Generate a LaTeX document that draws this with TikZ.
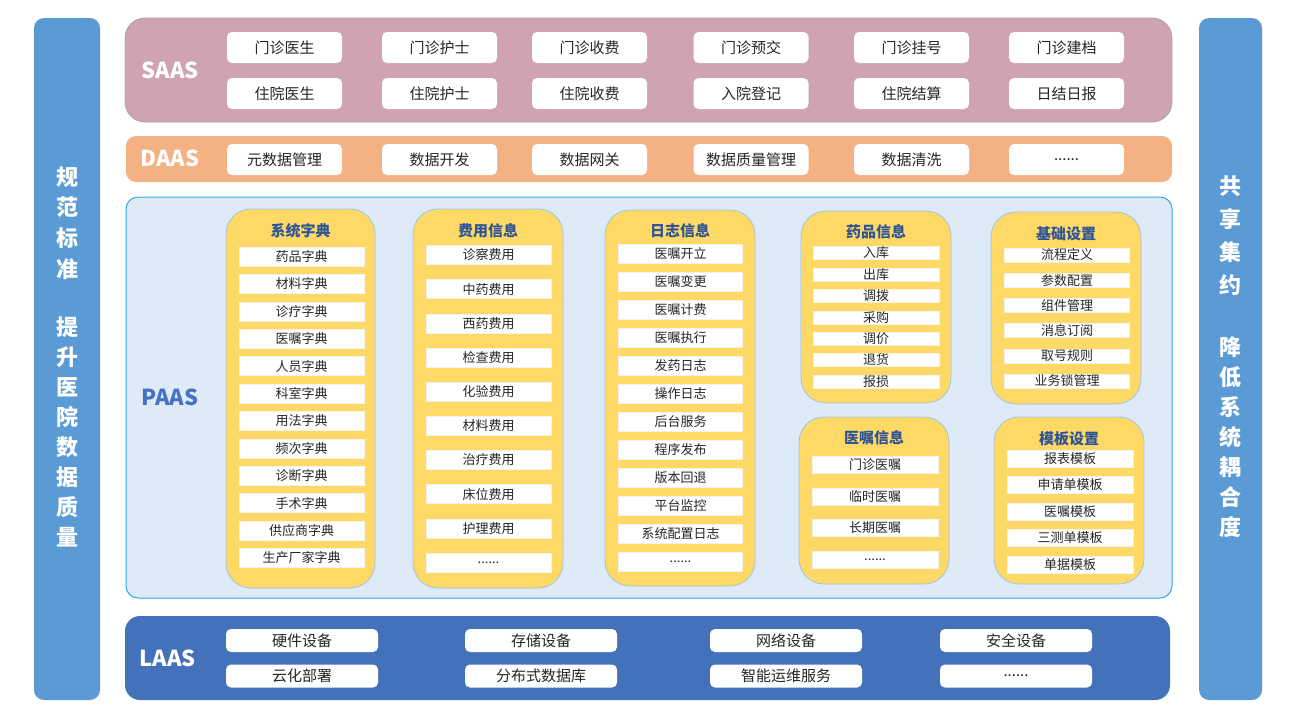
\documentclass[tikz,border=0pt]{standalone}
\usepackage{fontspec}
\setmainfont{Noto Sans CJK SC}
\usetikzlibrary{positioning}

\definecolor{sidebar}{HTML}{5B9BD5}
\definecolor{saasbg}{HTML}{D0A3B0}
\definecolor{daasbg}{HTML}{F4B183}
\definecolor{paasbg}{HTML}{DEEBF7}
\definecolor{paasln}{HTML}{2EA9E1}
\definecolor{laasbg}{HTML}{4472BA}
\definecolor{colbg}{HTML}{FFD966}
\definecolor{colln}{HTML}{9DC3E6}
\definecolor{titleblue}{HTML}{2F5597}
\definecolor{paastext}{HTML}{4472C4}
\definecolor{itemtext}{HTML}{262626}
\newcommand\etcdots{......}

\begin{document}
\begin{tikzpicture}[x=1pt, y=-1pt, every node/.style={text=itemtext},
	layername/.style={font=\fontsize{22}{22}\selectfont\bfseries, text=white},
	sidetext/.style={font=\fontsize{22}{30}\selectfont\bfseries, text=white, align=center},
	card/.style={fill=white, rounded corners=5pt, minimum width=115pt, minimum height=31pt, inner sep=0pt, font=\fontsize{15}{15}\selectfont},
	lcard/.style={card, minimum width=152pt, minimum height=23pt},
	col/.style={fill=colbg, draw=colln, line width=0.8pt, rounded corners=25pt},
	coltitle/.style={font=\fontsize{15}{15}\selectfont\bfseries, text=titleblue},
	item/.style={fill=white, draw=white!90!gray, line width=0.4pt, minimum width=125pt, inner sep=0pt, font=\fontsize{13}{13}\selectfont}]
	\useasboundingbox (0,0) rectangle (1300,726);
	% side bars
	\fill[sidebar, rounded corners=10pt] (34,18) rectangle (100,700);
	\fill[sidebar, rounded corners=10pt] (1199,18) rectangle (1262,700);
	\node[sidetext, font=\fontsize{22}{30.7}\selectfont\bfseries] (lefttop) at (67,223) {规\\范\\标\\准};
	\node[sidetext] (leftbot) at (67,432) {提\\升\\医\\院\\数\\据\\质\\量};
	\node[sidetext, font=\fontsize{22}{33}\selectfont\bfseries] (righttop) at (1230.5,235.5) {共\\享\\集\\约};
	\node[sidetext] (rightbot) at (1230.5,437) {降\\低\\系\\统\\耦\\合\\度};
	% SAAS
	\draw[fill=saasbg, draw=gray!70, line width=0.8pt, rounded corners=20pt] (125,18) rectangle (1172,122);
	\node[layername] (saas) at (170,70) {SAAS};
	\foreach \t [count=\i] in {门诊医生,门诊护士,门诊收费,门诊预交,门诊挂号,门诊建档} {
		\pgfmathsetmacro\cx{{284.5,439.5,589.5,751,911.5,1066.5}[\i-1]}
		\node[card] (saas-a\i) at (\cx,47.5) {\t};
	}
	\foreach \t [count=\i] in {住院医生,住院护士,住院收费,入院登记,住院结算,日结日报} {
		\pgfmathsetmacro\cx{{284.5,439.5,589.5,751,911.5,1066.5}[\i-1]}
		\node[card] (saas-b\i) at (\cx,93.5) {\t};
	}
	% DAAS
	\fill[daasbg, rounded corners=10pt] (126,136) rectangle (1172,182);
	\node[layername] (daas) at (170,158) {DAAS};
	\foreach \t [count=\i] in {元数据管理,数据开发,数据网关,数据质量管理,数据清洗,\etcdots} {
		\pgfmathsetmacro\cx{{284.5,439.5,589.5,751,911.5,1066.5}[\i-1]}
		\node[card] (daas-\i) at (\cx,159.5) {\t};
	}
	% PAAS
	\draw[fill=paasbg, draw=paasln, line width=1pt, rounded corners=12pt] (126,197) rectangle (1172,598);
	\node[layername, text=paastext] (paas) at (170,397) {PAAS};
	\draw[col] (226,209) rectangle (375,588);
	\node[coltitle] (sysdict) at (300.5,231) {系统字典};
	\foreach \t [count=\i] in {药品字典,材料字典,诊疗字典,医嘱字典,人员字典,科室字典,用法字典,频次字典,诊断字典,手术字典,供应商字典,生产厂家字典}
		\node[item, minimum height=19pt] (sysdict-\i) at (301.5,{256.5+27.4*(\i-1)}) {\t};
	\draw[col] (413,209) rectangle (563,588);
	\node[coltitle] (fee) at (488,231) {费用信息};
	\foreach \t [count=\i] in {诊察费用,中药费用,西药费用,检查费用,化验费用,材料费用,治疗费用,床位费用,护理费用,\etcdots}
		\node[item, minimum height=19pt] (fee-\i) at (488.5,{255+34.15*(\i-1)}) {\t};
	\draw[col] (605,210) rectangle (755,586);
	\node[coltitle] (log) at (680,231) {日志信息};
	\foreach \t [count=\i] in {医嘱开立,医嘱变更,医嘱计费,医嘱执行,发药日志,操作日志,后台服务,程序发布,版本回退,平台监控,系统配置日志,\etcdots}
		\node[item, minimum height=19pt, minimum width=124pt] (log-\i) at (680.5,{254+28*(\i-1)}) {\t};
	\draw[col] (801,211) rectangle (951,403);
	\node[coltitle] (drug) at (876,232) {药品信息};
	\foreach \t [count=\i] in {入库,出库,调拨,采购,调价,退货,报损}
		\node[item, minimum height=13pt, minimum width=126pt] (drug-\i) at (876,{253+21.4*(\i-1)}) {\t};
	\draw[col] (991,212) rectangle (1141,404);
	\node[coltitle] (base) at (1066,234) {基础设置};
	\foreach \t [count=\i] in {流程定义,参数配置,组件管理,消息订阅,取号规则,业务锁管理}
		\node[item, minimum height=14pt] (base-\i) at (1067,{255+25.2*(\i-1)}) {\t};
	\draw[col] (799,417) rectangle (949,584);
	\node[coltitle] (order) at (874,438) {医嘱信息};
	\foreach \t [count=\i] in {门诊医嘱,临时医嘱,长期医嘱,\etcdots}
		\node[item, minimum height=17pt, minimum width=126pt] (order-\i) at (875,{465+31.5*(\i-1)}) {\t};
	\draw[col] (994,417) rectangle (1144,584);
	\node[coltitle] (tmpl) at (1069,439) {模板设置};
	\foreach \t [count=\i] in {报表模板,申请单模板,医嘱模板,三测单模板,单据模板}
		\node[item, minimum height=17pt, minimum width=126pt] (tmpl-\i) at (1070,{458.5+26.5*(\i-1)}) {\t};
	% LAAS
	\fill[laasbg, rounded corners=15pt] (125,616) rectangle (1170,700);
	\node[layername] (laas) at (168,658) {LAAS};
	\foreach \t [count=\i] in {硬件设备,存储设备,网络设备,安全设备} {
		\pgfmathsetmacro\cx{{302,541,786,1016}[\i-1]}
		\node[lcard] (laas-a\i) at (\cx,640.5) {\t};
	}
	\foreach \t [count=\i] in {云化部署,分布式数据库,智能运维服务,\etcdots} {
		\pgfmathsetmacro\cx{{302,541,786,1016}[\i-1]}
		\node[lcard] (laas-b\i) at (\cx,676) {\t};
	}
\end{tikzpicture}
\end{document}
